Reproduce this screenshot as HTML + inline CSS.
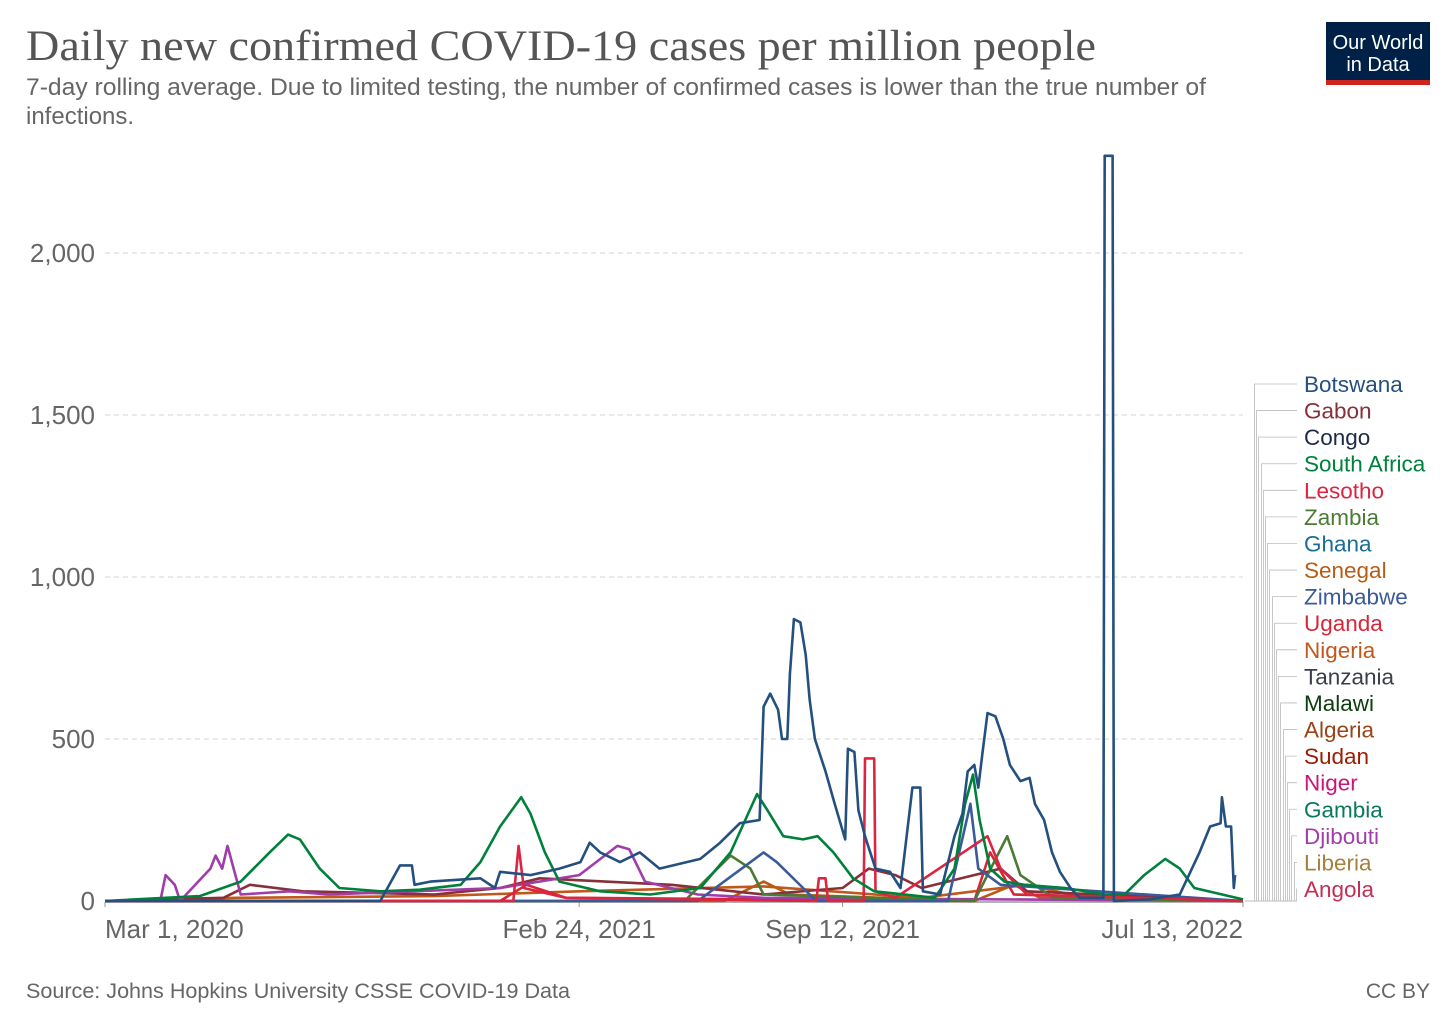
<!DOCTYPE html>
<html><head><meta charset="utf-8"><style>
body{margin:0;background:#fff;width:1456px;height:1028px;overflow:hidden;font-family:"Liberation Sans",sans-serif}
</style></head><body>
<svg id="chart" width="1456" height="1028" xmlns="http://www.w3.org/2000/svg">
<text x="26" y="60" font-family="Liberation Serif,serif" font-size="43" fill="#555" textLength="1070" lengthAdjust="spacingAndGlyphs">Daily new confirmed COVID-19 cases per million people</text>
<text x="26" y="95" font-size="24" fill="#666" textLength="1180" lengthAdjust="spacingAndGlyphs">7-day rolling average. Due to limited testing, the number of confirmed cases is lower than the true number of</text>
<text x="26" y="124" font-size="24" fill="#666">infections.</text>
<g>
<rect x="1326" y="22" width="104" height="58" fill="#002147"/><rect x="1326" y="80" width="104" height="5" fill="#ce261e"/>
<text x="1378" y="49" font-size="20" fill="#fff" text-anchor="middle">Our World</text>
<text x="1378" y="71" font-size="20" fill="#fff" text-anchor="middle">in Data</text></g>
<g id="grid"></g>
<g id="yticks"></g>
<g id="xticks"></g>
<g id="lines"></g>
<g id="legend"></g>
<text x="26" y="998" font-size="21" fill="#666" textLength="544" lengthAdjust="spacingAndGlyphs">Source: Johns Hopkins University CSSE COVID-19 Data</text>
<text x="1430" y="998" font-size="21" fill="#666" text-anchor="end">CC BY</text>
</svg>
<script>
const yTicks=[0,500,1000,1500,2000];
const yTickLabels=["0","500","1,000","1,500","2,000"];
const xTickDays=[0,360,560,864];
const xTickLabels=["Mar 1, 2020","Feb 24, 2021","Sep 12, 2021","Jul 13, 2022"];
const seriesNames=["Botswana","Gabon","Congo","South Africa","Lesotho","Zambia","Ghana","Senegal","Zimbabwe","Uganda","Nigeria","Tanzania","Malawi","Algeria","Sudan","Niger","Gambia","Djibouti","Liberia","Angola"];
const seriesColors=["#24507f","#883039","#1c2a4a","#00813b","#dc2540","#4c7a34","#1a6d94","#b85c14","#3b5a99","#d72638","#c0581b","#3b3f4a","#0e3d0e","#9a4518","#9b1c00","#c9157a","#08795a","#a03da8","#a8803e","#c23055"];
const botswanaDays=[0,209,224,233,235,247,285,296,300,323,345,361,368,376,391,406,421,452,467,482,497,500,505,511,514,518,520,523,528,532,535,539,547,554,562,564,569,572,577,585,596,604,613,619,621,634,645,651,655,660,663,666,670,676,682,687,695,702,706,713,719,725,733,740,758,759,765,766,793,816,831,839,847,848,851,855,857,858];
const botswanaVals=[0,0,110,110,50,60,70,40,90,80,100,120,180,150,120,150,100,130,180,240,250,600,640,590,500,500,700,870,860,760,620,500,400,300,190,470,460,280,200,100,90,40,350,350,30,20,200,270,400,420,350,450,580,570,500,420,370,380,300,250,150,90,40,10,10,2300,2300,0,5,20,150,230,240,320,230,230,40,80];
const southAfricaDays=[0,72,103,125,139,148,163,178,209,239,270,285,300,316,323,334,345,376,414,452,475,495,503,515,530,541,553,568,584,607,630,645,653,659,664,672,683,698,729,759,774,789,805,816,827,864];
const southAfricaVals=[0,15,60,150,205,190,100,40,30,35,50,120,230,320,270,150,60,30,20,40,150,330,280,200,190,200,150,70,30,20,10,100,300,390,250,100,60,50,40,20,20,80,130,100,40,5];
const djiboutiDays=[0,42,46,53,57,80,84,89,93,99,103,140,170,300,360,389,398,410,450,500,864];
const djiboutiVals=[0,0,80,50,0,100,140,100,170,80,20,30,20,40,80,170,160,60,20,10,0];
const gabonDays=[0,90,110,150,250,300,330,380,430,500,560,580,600,620,680,700,864];
const gabonVals=[0,10,50,30,20,40,70,60,50,20,40,100,80,40,100,30,0];
const lesothoDays=[0,310,314,318,350,540,542,547,549,576,577,584,585,600,670,680,700,864];
const lesothoVals=[0,0,170,40,10,0,70,70,0,0,440,440,30,10,200,100,20,0];
const zambiaDays=[0,440,475,490,500,660,685,695,720,864];
const zambiaVals=[0,0,140,100,20,0,200,80,10,0];
const zimbabweDays=[0,450,500,510,530,540,640,657,663,680,864];
const zimbabweVals=[0,0,150,120,40,0,0,300,100,50,0];
const senegalDays=[0,470,500,520,660,690,710,864];
const senegalVals=[0,0,60,20,0,50,10,0];
const nigeriaDays=[0,100,250,360,500,620,700,750,864];
const nigeriaVals=[0,10,15,30,45,10,50,5,0];
const ugandaDays=[0,300,320,350,660,672,690,864];
const ugandaVals=[0,0,50,10,0,150,20,0];

const X0=105,X1=1243,Y0=901,PX=162/500;
const xs=d=>X0+d*(X1-X0)/864;
const ys=v=>Y0-v*PX;
const NS="http://www.w3.org/2000/svg";
function mk(tag,parent,attrs){const e=document.createElementNS(NS,tag);for(const k in attrs)e.setAttribute(k,attrs[k]);parent.appendChild(e);return e;}
const grid=document.getElementById('grid'),yt=document.getElementById('yticks'),xt=document.getElementById('xticks');
yTicks.forEach((t,i)=>{
 if(t>0){const l=mk('line',grid,{x1:X0,x2:X1,y1:ys(t),y2:ys(t),stroke:'#ddd','stroke-dasharray':'5,4','stroke-width':1.3});
 
 }
 const tx=mk('text',yt,{x:95,y:ys(t)+9,'font-size':26,fill:'#666','text-anchor':'end'});tx.textContent=yTickLabels[i];
 
 
});
const ax=mk('line',xt,{x1:X0,x2:X1,y1:Y0+1,y2:Y0+1,stroke:'#999','stroke-width':1.5});


xTickDays.forEach((d,i)=>{
 const anchor=i==0?'start':(i==xTickDays.length-1?'end':'middle');
 mk('line',xt,{x1:xs(d),x2:xs(d),y1:Y0+1,y2:Y0+6,stroke:'#999'});
 const tx=mk('text',xt,{x:xs(d),y:938,'font-size':26,fill:'#666','text-anchor':anchor});tx.textContent=xTickLabels[i];
 
 
});
const lines=document.getElementById('lines');
const ser=[[nigeriaDays,nigeriaVals,"#c0581b","nigeria"],[senegalDays,senegalVals,"#b85c14","senegal"],[ugandaDays,ugandaVals,"#d72638","uganda"],[gabonDays,gabonVals,"#883039","gabon"],[djiboutiDays,djiboutiVals,"#a03da8","djibouti"],[zambiaDays,zambiaVals,"#4c7a34","zambia"],[zimbabweDays,zimbabweVals,"#3b5a99","zimbabwe"],[lesothoDays,lesothoVals,"#dc2540","lesotho"],[southAfricaDays,southAfricaVals,"#00813b","south-africa"],[botswanaDays,botswanaVals,"#24507f","botswana"]];
ser.forEach(s=>{
 const pts=s[0].map((d,i)=>xs(d).toFixed(1)+','+ys(s[1][i]).toFixed(1)).join(' ');
 const p=mk('polyline',lines,{points:pts,fill:'none',stroke:s[2],'stroke-width':2.6,'stroke-linejoin':'round'});
 
 
});
const lg=document.getElementById('legend');
seriesNames.forEach((n,i)=>{
 const y=384+i*26.58, cx=Math.round(1254+i*2.2)+0.5;
 mk('polyline',lg,{points:`1297,${y} ${cx},${y} ${cx},901`,fill:'none',stroke:'#bbb','stroke-width':0.8});
 const t=mk('text',lg,{x:1304,y:y+8,'font-size':22.5,fill:seriesColors[i]});t.textContent=n;
 
 
});
mk('line',lg,{x1:1245,x2:1297,y1:901,y2:901,stroke:'#bbb','stroke-width':1});
</script>
</body></html>
